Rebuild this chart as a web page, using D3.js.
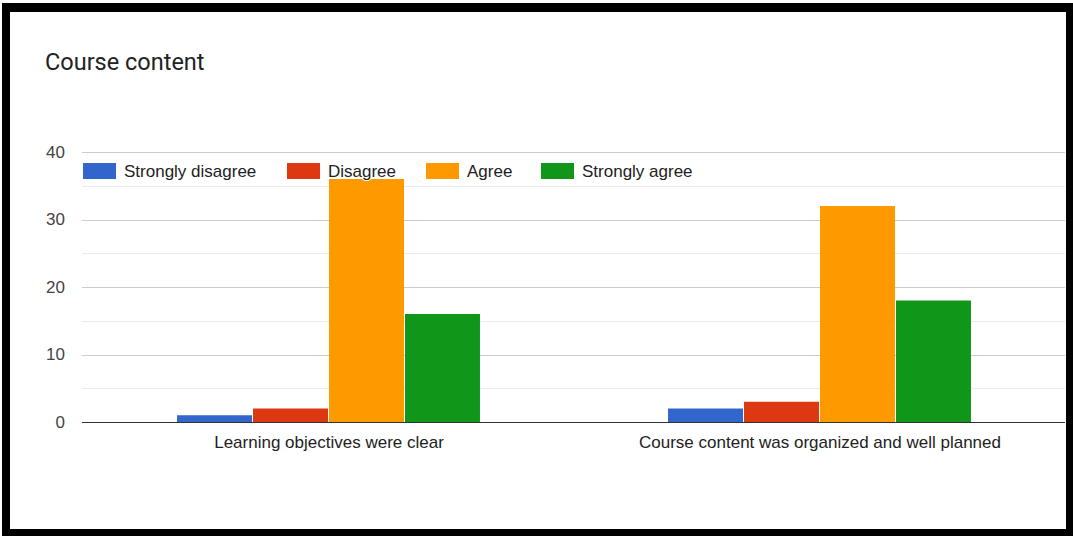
<!DOCTYPE html>
<html><head><meta charset="utf-8">
<script src="https://cdn.jsdelivr.net/npm/d3@7"></script>
<style>
html,body{margin:0;padding:0;background:#fff;}
svg{display:block;font-family:"Liberation Sans", Arial, sans-serif;}
</style></head>
<body>
<svg id="c" width="1073" height="536"></svg>
<script>
const categories = ["Learning objectives were clear", "Course content was organized and well planned"];
const seriesNames = ["Strongly disagree", "Disagree", "Agree", "Strongly agree"];
const stronglyDisagree = [1, 2];
const disagree = [2, 3];
const agree = [36, 32];
const stronglyAgree = [16, 18];
const seriesValues = [stronglyDisagree, disagree, agree, stronglyAgree];
const colors = ["#3366cc", "#dc3912", "#ff9900", "#109618"];
const yTicks = [0, 10, 20, 30, 40];
const yMinor = [5, 15, 25, 35];

const svg = d3.select("#c");
// outer frame
svg.append("rect").attr("x", 0).attr("y", 0).attr("width", 1073).attr("height", 536).attr("fill", "#fff");
svg.append("rect").attr("x", 2).attr("y", 3).attr("width", 1071).attr("height", 533).attr("fill", "#000");
svg.append("rect").attr("x", 10).attr("y", 12).attr("width", 1056).attr("height", 517).attr("fill", "#fff");

svg.append("text").attr("x", 45).attr("y", 70).attr("font-family", "Roboto, Arial, sans-serif")
  .attr("font-size", 23.5).attr("fill", "#222").text("Course content");

const x0 = d3.scaleBand().domain(categories).range([83.5, 1065.5]).paddingInner(0.381).paddingOuter(0.1905);
const x1 = d3.scaleBand().domain(seriesNames).range([0, x0.bandwidth()]);
const y = d3.scaleLinear().domain([0, 40]).range([422, 152]);

// gridlines
svg.append("g").selectAll("line").data(yMinor).join("line")
  .attr("x1", 82).attr("x2", 1065).attr("y1", d => Math.round(y(d)) + 0.5).attr("y2", d => Math.round(y(d)) + 0.5)
  .attr("stroke", "#ebebeb").attr("stroke-width", 1);
svg.append("g").selectAll("line").data(yTicks.slice(1)).join("line")
  .attr("x1", 82).attr("x2", 1065).attr("y1", d => Math.round(y(d)) + 0.5).attr("y2", d => Math.round(y(d)) + 0.5)
  .attr("stroke", "#cccccc").attr("stroke-width", 1);

// y tick labels
svg.append("g").selectAll("text").data(yTicks).join("text")
  .attr("x", 65).attr("y", d => y(d)).attr("dy", "0.35em").attr("text-anchor", "end")
  .attr("font-size", 17).attr("fill", "#444").text(d => d);

// bars
const flat = [];
categories.forEach((c, ci) => seriesNames.forEach((s, si) => flat.push({c, s, v: seriesValues[si][ci], color: colors[si]})));
svg.append("g").selectAll("rect").data(flat).join("rect")
  .attr("x", d => x0(d.c) + x1(d.s))
  .attr("width", x1.bandwidth() - 1)
  .attr("y", d => y(d.v))
  .attr("height", d => y(0) - y(d.v))
  .attr("fill", d => d.color);

// baseline
svg.append("line").attr("x1", 82).attr("x2", 1065).attr("y1", 422.5).attr("y2", 422.5).attr("stroke", "#333").attr("stroke-width", 1.2);

// x labels
svg.append("g").selectAll("text").data(categories).join("text")
  .attr("x", d => x0(d) + x0.bandwidth() / 2).attr("y", 448).attr("text-anchor", "middle")
  .attr("font-size", 17).attr("fill", "#222").text(d => d);

// legend
const legendX = [83, 287, 426, 541];
const lg = svg.append("g").selectAll("g").data(seriesNames).join("g")
  .attr("transform", (d, i) => `translate(${legendX[i]},163)`);
lg.append("rect").attr("width", 33).attr("height", 16).attr("fill", (d, i) => colors[i]);
lg.append("text").attr("x", 41).attr("y", 8).attr("dy", "0.35em").attr("font-size", 17).attr("fill", "#222")
  .attr("stroke", "#fff").attr("stroke-width", 2).attr("paint-order", "stroke").text(d => d);
</script>
</body></html>
